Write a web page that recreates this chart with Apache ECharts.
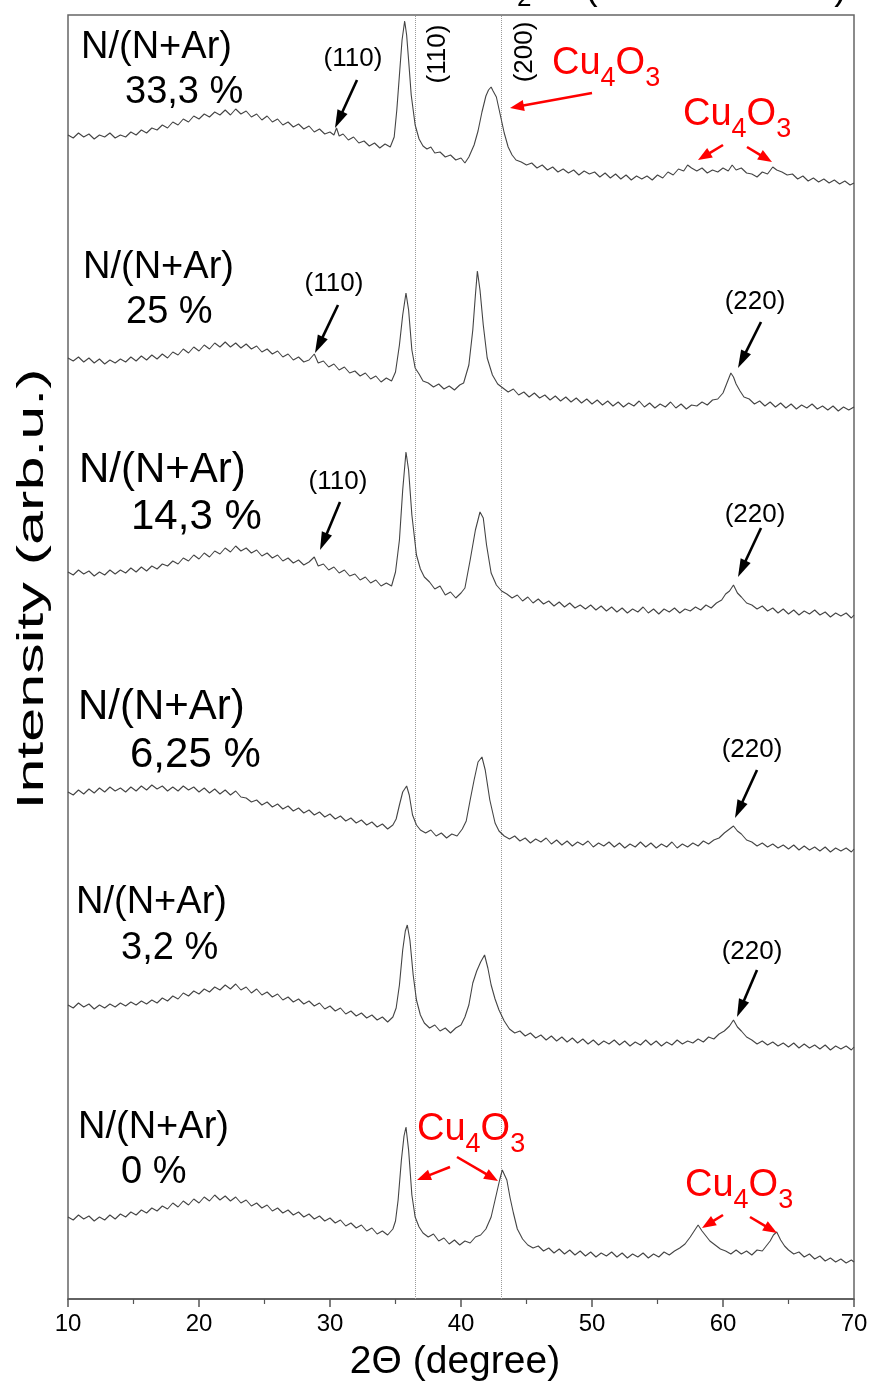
<!DOCTYPE html>
<html><head><meta charset="utf-8">
<script src="https://cdn.jsdelivr.net/npm/echarts/dist/echarts.min.js"></script>
<style>html,body{margin:0;padding:0;background:#fff}#c{width:873px;height:1389px}</style>
</head><body><div id="c"></div>
<script>
// 2Theta range / ticks
const xRange = [10, 70];
const xInterval = 10;
const refLines = [36.5, 43.05];   // dotted reference lines (110)/(200)

// Spectra: [2theta (deg), intensity (arb.u., stacked)]
const n333 = [[10.0,1164],[10.4,1161],[10.8,1166],[11.2,1162],[11.6,1165],[12.0,1160],[12.4,1164],[12.8,1162],[13.2,1166],[13.6,1161],[14.0,1164],[14.4,1162],[14.8,1167],[15.2,1164],[15.6,1169],[16.0,1166],[16.4,1171],[16.8,1169],[17.2,1174],[17.6,1171],[18.0,1177],[18.4,1174],[18.8,1180],[19.2,1177],[19.6,1183],[20.0,1180],[20.4,1185],[20.8,1182],[21.2,1187],[21.6,1184],[22.0,1189],[22.4,1184],[22.8,1190],[23.2,1185],[23.6,1188],[24.0,1182],[24.4,1185],[24.8,1179],[25.2,1183],[25.6,1177],[26.0,1180],[26.4,1174],[26.8,1177],[27.2,1172],[27.6,1175],[28.0,1170],[28.4,1173],[28.8,1167],[29.2,1170],[29.6,1165],[30.0,1167],[30.3,1164],[30.5,1171],[30.7,1163],[31.0,1165],[31.4,1159],[31.8,1162],[32.2,1156],[32.6,1158],[33.0,1153],[33.4,1156],[33.8,1151],[34.2,1155],[34.6,1152],[34.9,1162],[35.1,1189],[35.3,1224],[35.5,1259],[35.7,1278],[35.85,1264],[36.0,1239],[36.2,1204],[36.5,1174],[36.8,1160],[37.1,1153],[37.4,1150],[37.7,1152],[38.0,1146],[38.4,1147],[38.8,1142],[39.2,1144],[39.6,1139],[40.0,1141],[40.3,1136],[40.6,1142],[41.0,1154],[41.3,1168],[41.6,1187],[41.9,1203],[42.1,1209],[42.3,1212],[42.45,1208],[42.7,1202],[43.0,1184],[43.3,1166],[43.6,1152],[43.9,1144],[44.2,1139],[44.6,1137],[45.0,1134],[45.4,1136],[45.8,1131],[46.2,1134],[46.6,1129],[47.0,1132],[47.4,1127],[47.8,1130],[48.2,1126],[48.6,1129],[49.0,1124],[49.4,1128],[49.8,1125],[50.2,1127],[50.6,1122],[51.0,1126],[51.4,1121],[51.8,1125],[52.2,1120],[52.6,1124],[53.0,1119],[53.4,1123],[53.8,1120],[54.2,1123],[54.6,1119],[55.0,1124],[55.4,1121],[55.8,1127],[56.2,1124],[56.6,1130],[57.0,1128],[57.3,1134],[57.6,1131],[58.0,1128],[58.4,1131],[58.8,1126],[59.2,1129],[59.6,1127],[60.0,1131],[60.4,1128],[60.7,1134],[61.0,1129],[61.4,1131],[61.8,1126],[62.2,1125],[62.6,1122],[63.0,1127],[63.4,1125],[63.8,1132],[64.1,1129],[64.5,1127],[64.9,1124],[65.3,1125],[65.7,1120],[66.1,1123],[66.5,1118],[66.9,1121],[67.3,1117],[67.7,1120],[68.1,1116],[68.5,1119],[68.9,1115],[69.3,1118],[69.7,1114],[70.0,1116]];

const n25 = [[10.0,941],[10.4,938],[10.8,942],[11.2,937],[11.6,941],[12.0,936],[12.4,940],[12.8,935],[13.2,939],[13.6,936],[14.0,940],[14.4,937],[14.8,942],[15.2,938],[15.6,943],[16.0,939],[16.4,944],[16.8,940],[17.2,945],[17.6,941],[18.0,947],[18.4,944],[18.8,950],[19.2,946],[19.6,952],[20.0,948],[20.4,954],[20.8,950],[21.2,956],[21.6,952],[22.0,957],[22.4,952],[22.8,956],[23.2,951],[23.6,955],[24.0,950],[24.4,953],[24.8,947],[25.2,950],[25.6,945],[26.0,948],[26.4,942],[26.8,945],[27.2,939],[27.6,942],[28.0,937],[28.4,939],[28.8,945],[29.1,936],[29.5,938],[29.9,932],[30.3,935],[30.7,929],[31.1,932],[31.5,926],[31.9,928],[32.3,923],[32.7,926],[33.1,920],[33.5,923],[33.9,917],[34.3,921],[34.7,918],[35.0,927],[35.3,954],[35.55,984],[35.8,1006],[36.0,989],[36.25,949],[36.5,931],[36.8,925],[37.1,918],[37.5,916],[37.9,912],[38.3,915],[38.7,910],[39.1,913],[39.5,909],[39.9,914],[40.2,916],[40.6,934],[40.9,969],[41.1,1004],[41.25,1028],[41.45,1009],[41.7,974],[42.0,941],[42.4,924],[42.8,915],[43.2,911],[43.6,907],[44.0,910],[44.4,904],[44.8,907],[45.2,902],[45.6,906],[46.0,901],[46.4,904],[46.8,899],[47.2,903],[47.6,898],[48.0,902],[48.4,897],[48.8,901],[49.2,896],[49.6,900],[50.0,895],[50.4,899],[50.8,894],[51.2,898],[51.6,893],[52.0,897],[52.4,892],[52.8,896],[53.2,893],[53.6,898],[54.0,892],[54.4,896],[54.8,891],[55.2,895],[55.6,892],[56.0,897],[56.4,891],[56.8,895],[57.2,890],[57.6,894],[58.0,893],[58.4,897],[58.8,894],[59.2,899],[59.6,900],[60.0,906],[60.3,916],[60.6,926],[60.8,922],[61.0,915],[61.3,908],[61.6,902],[62.0,900],[62.4,895],[62.8,898],[63.2,893],[63.6,897],[64.0,892],[64.4,896],[64.8,891],[65.2,895],[65.6,890],[66.0,894],[66.4,891],[66.8,895],[67.2,890],[67.6,893],[68.0,889],[68.4,893],[68.8,888],[69.2,892],[69.6,889],[70.0,892]];

const n143 = [[10.0,727],[10.4,724],[10.8,729],[11.2,725],[11.6,728],[12.0,723],[12.4,727],[12.8,724],[13.2,729],[13.6,725],[14.0,729],[14.4,726],[14.8,731],[15.2,727],[15.6,732],[16.0,728],[16.4,733],[16.8,730],[17.2,735],[17.6,733],[18.0,738],[18.4,735],[18.8,741],[19.2,738],[19.6,744],[20.0,740],[20.4,746],[20.8,742],[21.2,748],[21.6,745],[22.0,751],[22.4,747],[22.8,753],[23.2,748],[23.6,751],[24.0,746],[24.4,749],[24.8,743],[25.2,746],[25.6,741],[26.0,744],[26.4,738],[26.8,741],[27.2,736],[27.6,739],[28.0,734],[28.4,737],[28.8,742],[29.1,733],[29.5,735],[29.9,729],[30.3,732],[30.7,726],[31.1,729],[31.5,723],[31.9,725],[32.3,719],[32.7,722],[33.1,716],[33.5,719],[33.9,713],[34.3,716],[34.7,713],[35.0,727],[35.3,759],[35.55,809],[35.8,847],[36.0,829],[36.25,784],[36.6,744],[36.9,730],[37.2,722],[37.6,717],[38.0,710],[38.4,713],[38.8,704],[39.2,707],[39.6,701],[40.0,706],[40.3,711],[40.7,739],[41.1,769],[41.45,787],[41.7,781],[41.95,754],[42.3,726],[42.7,714],[43.1,708],[43.5,705],[43.9,701],[44.3,704],[44.7,698],[45.1,702],[45.5,696],[45.9,700],[46.3,695],[46.7,698],[47.1,693],[47.5,697],[47.9,692],[48.3,696],[48.7,691],[49.1,694],[49.5,690],[49.9,694],[50.3,689],[50.7,693],[51.1,688],[51.5,692],[51.9,687],[52.3,691],[52.7,686],[53.1,690],[53.5,687],[53.9,692],[54.3,686],[54.7,690],[55.1,685],[55.5,690],[55.9,687],[56.3,691],[56.7,686],[57.1,690],[57.5,688],[57.9,692],[58.3,689],[58.7,694],[59.1,691],[59.5,696],[59.9,699],[60.2,705],[60.5,708],[60.8,714],[61.1,706],[61.4,702],[61.8,696],[62.2,694],[62.6,690],[63.0,693],[63.4,688],[63.8,691],[64.2,686],[64.6,690],[65.0,685],[65.4,689],[65.8,684],[66.2,688],[66.6,685],[67.0,689],[67.4,684],[67.8,687],[68.2,682],[68.6,686],[69.0,683],[69.4,686],[69.8,681],[70.0,684]];

const n625 = [[10.0,507],[10.4,504],[10.8,509],[11.2,505],[11.6,510],[12.0,506],[12.4,511],[12.8,507],[13.2,512],[13.6,508],[14.0,511],[14.4,507],[14.8,512],[15.2,508],[15.6,513],[16.0,509],[16.4,514],[16.8,510],[17.2,513],[17.6,508],[18.0,512],[18.4,508],[18.8,513],[19.2,509],[19.6,512],[20.0,507],[20.4,511],[20.8,506],[21.2,510],[21.6,505],[22.0,509],[22.4,504],[22.8,508],[23.2,502],[23.6,501],[24.0,497],[24.4,499],[24.8,494],[25.2,497],[25.6,492],[26.0,495],[26.4,490],[26.8,493],[27.2,488],[27.6,491],[28.0,486],[28.4,489],[28.8,484],[29.2,487],[29.6,482],[30.0,485],[30.4,480],[30.8,483],[31.2,478],[31.6,481],[32.0,476],[32.4,479],[32.8,474],[33.2,477],[33.6,472],[34.0,475],[34.4,470],[34.8,474],[35.05,480],[35.3,494],[35.55,507],[35.85,513],[36.05,504],[36.3,484],[36.6,474],[36.9,469],[37.3,466],[37.7,469],[38.1,463],[38.5,466],[38.9,461],[39.3,465],[39.7,463],[40.1,470],[40.4,478],[40.7,499],[41.0,519],[41.3,537],[41.6,542],[41.85,529],[42.2,499],[42.6,476],[42.9,468],[43.3,463],[43.7,460],[44.1,463],[44.5,458],[44.9,461],[45.3,456],[45.7,460],[46.1,457],[46.5,461],[46.9,455],[47.3,459],[47.7,454],[48.1,458],[48.5,453],[48.9,457],[49.3,454],[49.7,458],[50.1,452],[50.5,456],[50.9,453],[51.3,457],[51.7,452],[52.1,456],[52.5,451],[52.9,455],[53.3,452],[53.7,457],[54.1,452],[54.5,456],[54.9,451],[55.3,455],[55.7,452],[56.1,457],[56.5,451],[56.9,455],[57.3,452],[57.7,456],[58.1,453],[58.5,458],[58.9,455],[59.3,459],[59.7,461],[60.1,466],[60.5,470],[60.8,473],[61.1,468],[61.4,465],[61.8,459],[62.2,457],[62.6,453],[63.0,456],[63.4,452],[63.8,455],[64.2,451],[64.6,454],[65.0,450],[65.4,454],[65.8,449],[66.2,453],[66.6,449],[67.0,452],[67.4,448],[67.8,452],[68.2,447],[68.6,451],[69.0,448],[69.4,451],[69.8,447],[70.0,450]];

const n32 = [[10.0,294],[10.4,291],[10.8,296],[11.2,292],[11.6,295],[12.0,290],[12.4,294],[12.8,291],[13.2,295],[13.6,292],[14.0,296],[14.4,293],[14.8,297],[15.2,294],[15.6,298],[16.0,295],[16.4,299],[16.8,296],[17.2,301],[17.6,298],[18.0,303],[18.4,300],[18.8,306],[19.2,303],[19.6,308],[20.0,305],[20.4,310],[20.8,307],[21.2,312],[21.6,309],[22.0,314],[22.4,310],[22.8,315],[23.2,309],[23.6,312],[24.0,306],[24.4,310],[24.8,304],[25.2,307],[25.6,302],[26.0,305],[26.4,299],[26.8,302],[27.2,297],[27.6,300],[28.0,295],[28.4,298],[28.8,293],[29.2,296],[29.6,290],[30.0,293],[30.4,288],[30.8,291],[31.2,285],[31.6,288],[32.0,283],[32.4,286],[32.8,281],[33.2,284],[33.6,279],[34.0,282],[34.4,277],[34.8,282],[35.05,291],[35.3,314],[35.55,349],[35.75,368],[35.9,374],[36.1,359],[36.35,324],[36.6,299],[36.9,284],[37.2,276],[37.6,271],[38.0,274],[38.4,268],[38.8,271],[39.2,266],[39.6,271],[40.0,274],[40.3,282],[40.6,294],[40.9,316],[41.2,328],[41.5,337],[41.8,344],[42.05,331],[42.3,314],[42.6,300],[42.9,289],[43.3,278],[43.7,270],[44.1,266],[44.5,268],[44.9,263],[45.3,266],[45.7,261],[46.1,264],[46.5,259],[46.9,263],[47.3,258],[47.7,262],[48.1,257],[48.5,261],[48.9,256],[49.3,260],[49.7,255],[50.1,259],[50.5,254],[50.9,258],[51.3,255],[51.7,259],[52.1,254],[52.5,258],[52.9,253],[53.3,257],[53.7,254],[54.1,259],[54.5,254],[54.9,258],[55.3,253],[55.7,257],[56.1,254],[56.5,259],[56.9,255],[57.3,258],[57.7,256],[58.1,260],[58.5,257],[58.9,262],[59.3,260],[59.7,265],[60.1,268],[60.5,273],[60.8,279],[61.1,272],[61.4,268],[61.8,262],[62.2,259],[62.6,255],[63.0,258],[63.4,254],[63.8,257],[64.2,253],[64.6,256],[65.0,252],[65.4,256],[65.8,251],[66.2,255],[66.6,251],[67.0,254],[67.4,250],[67.8,254],[68.2,249],[68.6,253],[69.0,250],[69.4,253],[69.8,249],[70.0,252]];

const n0 = [[10.0,82],[10.4,79],[10.8,84],[11.2,80],[11.6,83],[12.0,78],[12.4,82],[12.8,79],[13.2,84],[13.6,80],[14.0,85],[14.4,82],[14.8,87],[15.2,84],[15.6,89],[16.0,86],[16.4,91],[16.8,88],[17.2,93],[17.6,90],[18.0,96],[18.4,92],[18.8,98],[19.2,94],[19.6,100],[20.0,96],[20.4,102],[20.8,98],[21.2,104],[21.6,99],[22.0,103],[22.4,98],[22.8,102],[23.2,96],[23.6,99],[24.0,93],[24.4,96],[24.8,91],[25.2,94],[25.6,88],[26.0,91],[26.4,86],[26.8,89],[27.2,84],[27.6,87],[28.0,82],[28.4,85],[28.8,80],[29.2,83],[29.6,78],[30.0,81],[30.4,76],[30.8,79],[31.2,73],[31.6,76],[32.0,71],[32.4,74],[32.8,68],[33.2,71],[33.6,65],[34.0,68],[34.4,64],[34.8,70],[35.0,78],[35.2,99],[35.45,139],[35.65,163],[35.8,172],[36.0,149],[36.25,104],[36.5,82],[36.8,72],[37.1,66],[37.5,62],[37.9,65],[38.3,58],[38.7,61],[39.1,55],[39.5,59],[39.9,54],[40.3,58],[40.7,56],[41.1,62],[41.5,64],[41.9,70],[42.3,82],[42.6,99],[42.95,119],[43.15,129],[43.3,131],[43.5,119],[43.75,101],[44.0,86],[44.3,70],[44.7,60],[45.1,54],[45.5,51],[45.9,53],[46.3,48],[46.7,51],[47.1,46],[47.5,50],[47.9,45],[48.3,49],[48.7,44],[49.1,48],[49.5,43],[49.9,47],[50.3,42],[50.7,46],[51.1,43],[51.5,47],[51.9,42],[52.3,46],[52.7,41],[53.1,45],[53.5,42],[53.9,46],[54.3,41],[54.7,45],[55.1,42],[55.5,47],[55.9,44],[56.3,48],[56.7,51],[57.1,55],[57.5,62],[57.8,68],[58.1,74],[58.4,68],[58.7,63],[59.0,58],[59.4,54],[59.8,50],[60.2,48],[60.6,45],[61.0,49],[61.4,45],[61.8,48],[62.2,44],[62.6,49],[63.0,48],[63.3,53],[63.6,58],[63.85,64],[64.1,67],[64.4,59],[64.7,53],[65.0,49],[65.4,45],[65.8,47],[66.2,42],[66.6,45],[67.0,40],[67.4,43],[67.8,38],[68.2,41],[68.6,37],[69.0,40],[69.4,36],[69.8,39],[70.0,37]];

const spectra = [n333, n25, n143, n625, n32, n0];

// ---------- annotations (page pixels) ----------
const FONT = '"Liberation Sans", Arial, Helvetica, sans-serif';
const measCtx = document.createElement('canvas').getContext('2d');
function tw(t, size){ measCtx.font = size + 'px ' + FONT; return measCtx.measureText(t).width; }

function txt(t, x, y, size, color, align, extra){
  return Object.assign({type:'text', x:x, y:y, silent:true, z:50,
    style:{text:t, font: size+'px '+FONT, fontSize:size, fontFamily:FONT, fill:color||'#000',
      align:align||'left', textAlign:align||'left', verticalAlign:'middle', textVerticalAlign:'middle'}}, extra||{});
}
function arrow(x1,y1,x2,y2,color,w,hl,hw){
  const dx=x2-x1, dy=y2-y1, L=Math.hypot(dx,dy), ux=dx/L, uy=dy/L;
  const bx=x2-ux*hl, by=y2-uy*hl;
  return [
    {type:'line', silent:true, z:50, shape:{x1:x1,y1:y1,x2:bx+ux*2,y2:by+uy*2}, style:{stroke:color,lineWidth:w}},
    {type:'polygon', silent:true, z:50, shape:{points:[[x2,y2],[bx-uy*hw/2,by+ux*hw/2],[bx+uy*hw/2,by-ux*hw/2]]}, style:{fill:color}}
  ];
}
// Cu4O3 with subscripts; x = left, yb = baseline
function chem(base, x, yb, F, f, color){
  const out=[]; let cx=x;
  base.forEach(function(p){
    const sub = p[1];
    const size = sub ? f : F;
    const by = sub ? yb + 0.3*F : yb;
    out.push(txt(p[0], cx, by - 0.33*size, size, color, 'left'));
    cx += tw(p[0], size);
  });
  return out;
}
const CU4O3 = [['Cu',0],['4',1],['O',0],['3',1]];

const g = [];
// sample labels
const sampleLabels = [
  ['N/(N+Ar)', 81, 48, '33,3 %', 125, 93, 38],
  ['N/(N+Ar)', 83, 268, '25 %', 126, 313, 38],
  ['N/(N+Ar)', 79, 470, '14,3 %', 131, 517, 42],
  ['N/(N+Ar)', 78, 707, '6,25 %', 130, 755, 42],
  ['N/(N+Ar)', 76, 903, '3,2 %', 121, 949, 38],
  ['N/(N+Ar)', 78, 1128, '0 %', 121, 1173, 38]
];
sampleLabels.forEach(function(s){
  g.push(txt(s[0], s[1], s[2], s[6], '#000', 'left'));
  g.push(txt(s[3], s[4], s[5], s[6], '#000', 'left'));
});
// hkl labels
[['(110)',353,59],['(110)',334,284],['(220)',755,302],['(110)',338,482],['(220)',755,515],['(220)',752,750],['(220)',752,952]]
  .forEach(function(h){ g.push(txt(h[0], h[1], h[2], 26, '#000', 'center')); });
// rotated hkl labels along reference lines (read bottom to top)
g.push(txt('(110)', 438, 54, 26, '#000', 'center', {rotation: Math.PI/2}));
g.push(txt('(200)', 525, 52, 26, '#000', 'center', {rotation: Math.PI/2}));
// black arrows
[[357,80,335,128],[338,305,315,353],[761,322,738,368],[340,502,320,550],[761,528,738,577],[757,770,735,818],[757,970,737,1017]]
  .forEach(function(a){ Array.prototype.push.apply(g, arrow(a[0],a[1],a[2],a[3],'#000',2.6,18,11)); });
// red Cu4O3 labels
const RED = '#ff0000';
Array.prototype.push.apply(g, chem(CU4O3, 552, 76, 38, 27, RED));
Array.prototype.push.apply(g, chem(CU4O3, 683, 127, 38, 27, RED));
Array.prototype.push.apply(g, chem(CU4O3, 417, 1142, 38, 27, RED));
Array.prototype.push.apply(g, chem(CU4O3, 685, 1198, 38, 27, RED));
[[592,93,510,108],[723,145,698,160],[747,147,772,162],[450,1167,417,1180],[457,1157,498,1181],[723,1215,702,1228],[750,1217,777,1233]]
  .forEach(function(a){ Array.prototype.push.apply(g, arrow(a[0],a[1],a[2],a[3],RED,2.6,14,11)); });
// axis titles
g.push(txt('2\u0398 (degree)', 455, 1362, 39, '#000', 'center'));
g.push(txt('Intensity (arb.u.)', 33, 589, 37, '#000', 'center', {rotation: Math.PI/2, scaleX: 1.65}));
// cropped title at the very top
g.push(txt('Cu', 517, 1 - 0.33*38, 38, '#000', 'right'));
g.push(txt('2', 517, 7 - 0.33*26, 26, '#000', 'left'));
g.push(txt('O', 532, 1 - 0.33*38, 38, '#000', 'left'));
g.push(txt('(', 585, 1 - 0.33*38, 38, '#000', 'left'));
g.push(txt('JCPDS 05-0667', 716, 1 - 0.33*38, 38, '#000', 'center'));
g.push(txt(')', 847, 1 - 0.33*38, 38, '#000', 'right'));

const series = spectra.map(function(d, i){
  const s = {type:'line', data:d, showSymbol:false, symbol:'none', smooth:false, silent:true,
    lineStyle:{color:'#444', width:1.1}, z:10};
  if(i===0){
    s.markLine = {silent:true, symbol:['none','none'], label:{show:false},
      lineStyle:{type:'dotted', color:'#9a9a9a', width:1}, data: refLines.map(function(v){return {xAxis:v};})};
  }
  return s;
});

const chart = echarts.init(document.getElementById('c'), null, {renderer:'canvas'});
chart.setOption({
  animation:false,
  backgroundColor:'#fff',
  grid:{left:68, right:19, top:15, bottom:90, show:true, borderColor:'#666', borderWidth:1.5, backgroundColor:'transparent'},
  xAxis:{type:'value', min:xRange[0], max:xRange[1], interval:xInterval,
    axisLine:{show:true, onZero:false, lineStyle:{color:'#555', width:1.5}},
    axisTick:{show:true, inside:false, length:8, lineStyle:{color:'#555', width:1.5}},
    minorTick:{show:true, splitNumber:2, length:5, lineStyle:{color:'#555', width:1.2}},
    axisLabel:{margin:13, fontSize:24, color:'#000', fontFamily:FONT},
    splitLine:{show:false}},
  yAxis:{type:'value', min:0, max:1284, show:true,
    axisLine:{show:false}, axisTick:{show:false}, axisLabel:{show:false}, splitLine:{show:false}},
  series:series,
  graphic:{elements:g}
});
</script>
</body></html>
